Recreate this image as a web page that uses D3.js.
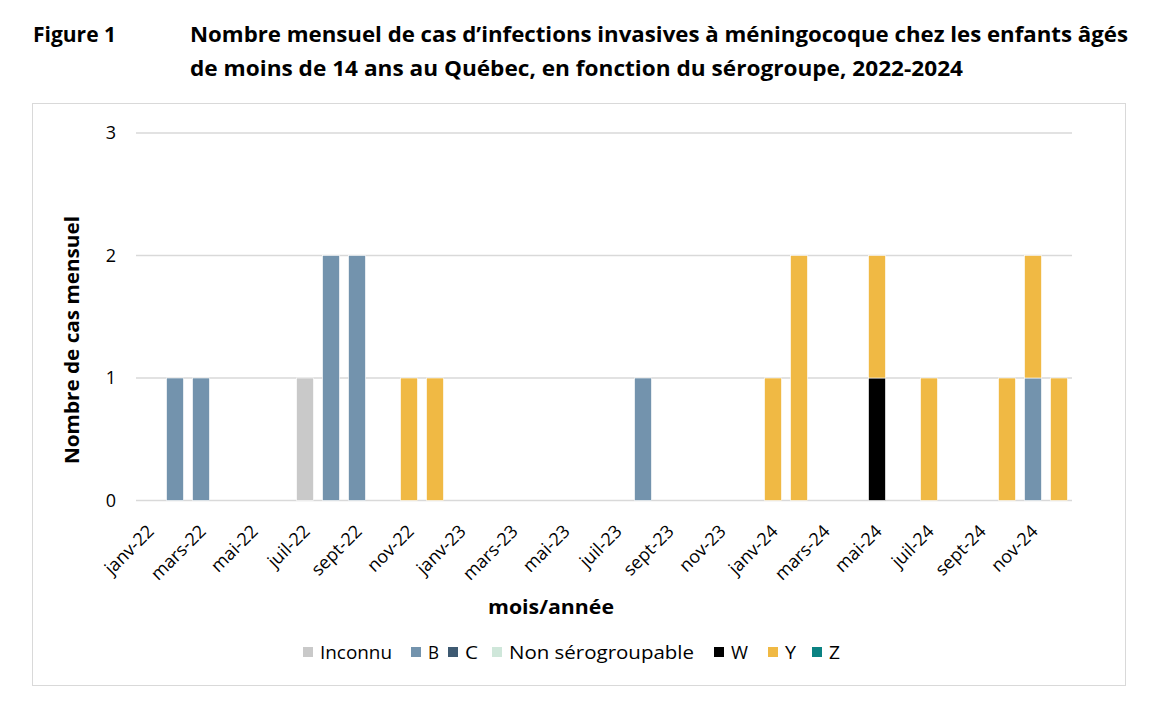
<!DOCTYPE html>
<html><head><meta charset="utf-8">
<script src="https://cdn.jsdelivr.net/npm/d3@7"></script>
<style>body{margin:0;background:#fff;} svg{display:block;font-family:"Open Sans","Noto Sans",sans-serif;}</style>
</head><body>
<svg id="c" width="1160" height="719"></svg>
<script>
const months = ["janv-22","févr-22","mars-22","avr-22","mai-22","juin-22","juil-22","août-22","sept-22","oct-22","nov-22","déc-22",
"janv-23","févr-23","mars-23","avr-23","mai-23","juin-23","juil-23","août-23","sept-23","oct-23","nov-23","déc-23",
"janv-24","févr-24","mars-24","avr-24","mai-24","juin-24","juil-24","août-24","sept-24","oct-24","nov-24","déc-24"];
const seriesNames = ["Inconnu","B","C","Non sérogroupable","W","Y","Z"];
const seriesColors = ["#c9c9c9","#7393ad","#3e5a72","#cfe7da","#000000","#f0b944","#0b8282"];
const inconnu = [0,0,0,0,0,0,1,0,0,0,0,0, 0,0,0,0,0,0,0,0,0,0,0,0, 0,0,0,0,0,0,0,0,0,0,0,0];
const serB    = [0,1,1,0,0,0,0,2,2,0,0,0, 0,0,0,0,0,0,0,1,0,0,0,0, 0,0,0,0,0,0,0,0,0,0,1,0];
const serC    = [0,0,0,0,0,0,0,0,0,0,0,0, 0,0,0,0,0,0,0,0,0,0,0,0, 0,0,0,0,0,0,0,0,0,0,0,0];
const nonSero = [0,0,0,0,0,0,0,0,0,0,0,0, 0,0,0,0,0,0,0,0,0,0,0,0, 0,0,0,0,0,0,0,0,0,0,0,0];
const serW    = [0,0,0,0,0,0,0,0,0,0,0,0, 0,0,0,0,0,0,0,0,0,0,0,0, 0,0,0,0,1,0,0,0,0,0,0,0];
const serY    = [0,0,0,0,0,0,0,0,0,0,1,1, 0,0,0,0,0,0,0,0,0,0,0,0, 1,2,0,0,1,0,1,0,0,1,1,1];
const serZ    = [0,0,0,0,0,0,0,0,0,0,0,0, 0,0,0,0,0,0,0,0,0,0,0,0, 0,0,0,0,0,0,0,0,0,0,0,0];
const yTicks = [0,1,2,3];
const titleLabel = "Figure 1";
const titleLines = ["Nombre mensuel de cas d’infections invasives à méningocoque chez les enfants âgés",
                    "de moins de 14 ans au Québec, en fonction du sérogroupe, 2022-2024"];
const yTitle = "Nombre de cas mensuel";
const xTitle = "mois/année";

const allSeries = [inconnu, serB, serC, nonSero, serW, serY, serZ];
const table = months.map((m,i)=>{const o={month:m}; seriesNames.forEach((s,j)=>o[s]=allSeries[j][i]); return o;});
const stack = d3.stack().keys(seriesNames)(table);

const svg = d3.select("#c");
const M = {l:136, r:1072, t:133, b:500.5};
const x = d3.scaleBand().domain(months).range([M.l, M.r]).paddingInner(0.35).paddingOuter(0.175);
const y = d3.scaleLinear().domain([0,3]).range([M.b, M.t]);

// frame
svg.append("rect").attr("x",32.5).attr("y",103.5).attr("width",1093).attr("height",582)
  .attr("fill","none").attr("stroke","#d9d9d9").attr("stroke-width",1);

// title
const tg = svg.append("g").attr("font-weight","700").attr("font-size",20.5).attr("fill","#000");
tg.append("text").attr("x",33).attr("y",42).text(titleLabel).attr("textLength",83).attr("lengthAdjust","spacingAndGlyphs");
tg.append("text").attr("x",190).attr("y",42).text(titleLines[0]).attr("textLength",938).attr("lengthAdjust","spacingAndGlyphs");
tg.append("text").attr("x",190).attr("y",76).text(titleLines[1]).attr("textLength",773).attr("lengthAdjust","spacingAndGlyphs");

// grid
svg.append("g").selectAll("line").data(yTicks).join("line")
  .attr("x1",M.l).attr("x2",M.r).attr("y1",d=>y(d)).attr("y2",d=>y(d))
  .attr("stroke","#d9d9d9").attr("stroke-width",1.3);

// y axis labels
const yAxis = d3.axisLeft(y).tickValues(yTicks).tickSize(0).tickPadding(0).tickFormat(d3.format("d"));
const ya = svg.append("g").attr("transform",`translate(116,0)`).call(yAxis);
ya.select(".domain").remove();
ya.selectAll("text").attr("font-size",18).attr("fill","#000").attr("font-family","'Open Sans',sans-serif");

// bars
svg.append("g").selectAll("g").data(stack).join("g")
  .attr("fill",(d,i)=>seriesColors[i])
  .selectAll("rect").data(d=>d.filter(p=>p[1]-p[0]>0)).join("rect")
  .attr("x",d=>x(d.data.month)).attr("width",x.bandwidth())
  .attr("y",d=>y(d[1])).attr("height",d=>y(d[0])-y(d[1]))
  .attr("stroke","#fff").attr("stroke-width",0.6);

// x axis labels
const xAxis = d3.axisBottom(x).tickValues(months.filter((m,i)=>i%2===0)).tickSize(0).tickPadding(0);
const xa = svg.append("g").attr("transform",`translate(0,${M.b})`).call(xAxis);
xa.select(".domain").remove();
xa.selectAll("text").attr("font-size",18).attr("fill","#000").attr("font-family","'Open Sans',sans-serif")
  .attr("text-anchor","end").attr("dy",0).attr("y",0)
  .attr("transform","translate(6,32) rotate(-45)");

// axis titles
svg.append("text").attr("transform","translate(79,340) rotate(-90)").attr("text-anchor","middle")
  .attr("font-weight","700").attr("font-size",20).attr("textLength",248).attr("lengthAdjust","spacingAndGlyphs").text(yTitle);
svg.append("text").attr("x",551).attr("y",614).attr("text-anchor","middle")
  .attr("font-weight","700").attr("font-size",20).attr("textLength",126).attr("lengthAdjust","spacingAndGlyphs").text(xTitle);

// legend
const lg = svg.append("g").attr("font-size",18.5);
const legendX = [303,411,448,492,714,768,812];
const legendW = [72,11,13,185,17,11,11];
seriesNames.forEach((s,i)=>{
  const g = lg.append("g").attr("transform",`translate(${legendX[i]},0)`);
  g.append("rect").attr("x",0).attr("y",647).attr("width",10).attr("height",10).attr("fill",seriesColors[i]);
  g.append("text").attr("x",17).attr("y",659).attr("textLength",legendW[i]).attr("lengthAdjust","spacingAndGlyphs").text(s);
});
</script>
</body></html>
